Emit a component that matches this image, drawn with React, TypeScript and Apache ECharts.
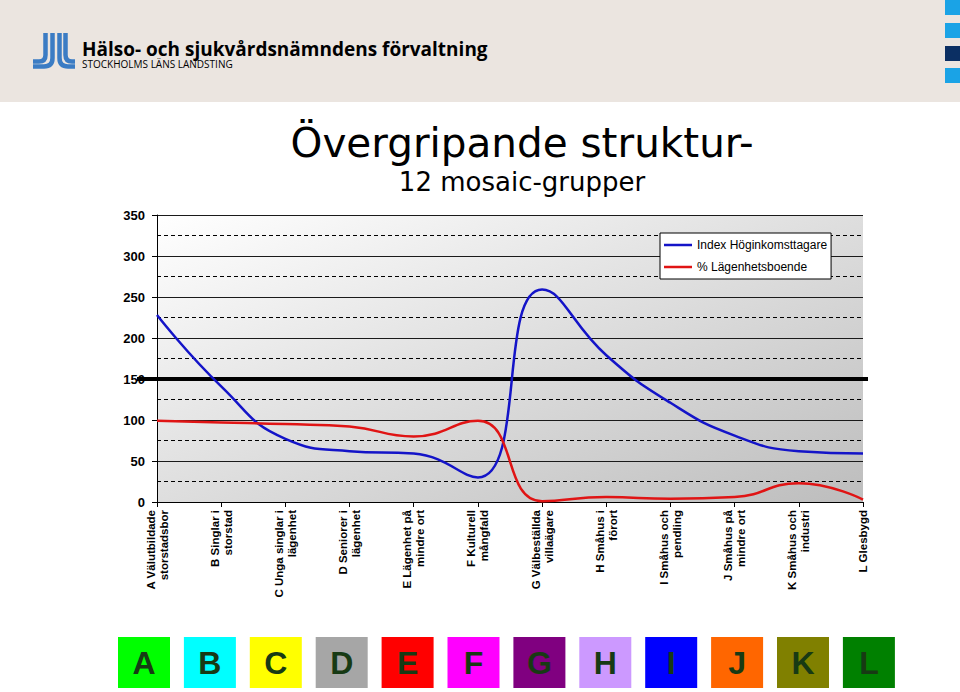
import React, { useEffect, useRef } from 'react';
import * as echarts from 'echarts';

const categories = [
  'A Välutbildade\nstorstadsbor',
  'B Singlar i\nstorstad',
  'C Unga singlar i\nlägenhet',
  'D Seniorer i\nlägenhet',
  'E Lägenhet på\nmindre ort',
  'F Kulturell\nmångfald',
  'G Välbeställda\nvillaägare',
  'H Småhus i\nförort',
  'I Småhus och\npendling',
  'J Småhus på\nmindre ort',
  'K Småhus och\nindustri',
  'L Glesbygd',
];
const seriesNames = ['Index Höginkomsttagare', '% Lägenhetsboende'];
const indexHoginkomst = [228, 141, 77, 62, 59, 30, 259, 179, 121, 81, 62, 59];
const lagenhetsboende = [99, 97, 95, 92, 80, 99, 1, 6, 4, 6, 23, 3];
const referenceLevel = 150;

const groupLetters = ['A', 'B', 'C', 'D', 'E', 'F', 'G', 'H', 'I', 'J', 'K', 'L'];
const groupColors = [
  '#00ff00', '#00ffff', '#ffff00', '#a6a6a6', '#ff0000', '#ff00ff',
  '#800080', '#cc99ff', '#0000ff', '#ff6600', '#808000', '#008000',
];
const headerSquareColors = ['#1aa3e6', '#1aa3e6', '#0b2f63', '#1aa3e6'];

const titleText = 'Övergripande struktur-';
const subtitleText = '12 mosaic-grupper';
const orgName = 'Hälso- och sjukvårdsnämndens förvaltning';
const orgSub = 'STOCKHOLMS LÄNS LANDSTING';

const LOGO_D =
  'M45.5 33 V55 Q45.5 61.5 39 61.5 H33 ' +
  'M52.5 33 V58 Q52.5 66.5 44 66.5 H33 ' +
  'M59.5 33 V58 Q59.5 66.5 68 66.5 H75 ' +
  'M65.5 33 V55 Q65.5 61.5 72 61.5 H75';

echarts.graphic.registerShape('logo', echarts.graphic.extendPath(LOGO_D, {}));

const ARIAL = '"Liberation Sans", Arial, sans-serif';

export default function App() {
  const ref = useRef<HTMLDivElement>(null);

  useEffect(() => {
    if (!ref.current) return;
    const chart = echarts.init(ref.current, undefined, { renderer: 'svg' });

    const graphics: any[] = [
      { id: 'hdr', type: 'rect', z: -10, shape: { x: 0, y: 0, width: 960, height: 102 }, style: { fill: '#ebe5e0' } },
      ...headerSquareColors.map((c, i) => ({
        id: 'sq' + i, type: 'rect', z: -5,
        shape: { x: 945, y: [0, 23, 46, 68][i], width: 15, height: 15 },
        style: { fill: c },
      })),
      { id: 'logo', type: 'logo', x: 0, y: 0, style: { stroke: '#3b7cc4', fill: 'none', lineWidth: 4.5 } },
      {
        id: 'org', type: 'text', x: 82, y: 48, scaleX: 0.95,
        style: { text: orgName, fontFamily: '"Open Sans", sans-serif', fontWeight: 'bold', fontSize: 20, fill: '#000', align: 'left', verticalAlign: 'middle', textAlign: 'left', textVerticalAlign: 'middle' },
      },
      {
        id: 'orgsub', type: 'text', x: 82, y: 64,
        style: { text: orgSub, fontFamily: '"Open Sans", sans-serif', fontSize: 10, fill: '#000', align: 'left', verticalAlign: 'middle', textAlign: 'left', textVerticalAlign: 'middle' },
      },
      {
        id: 'title', type: 'text', x: 522, y: 143,
        style: { text: titleText, fontFamily: '"DejaVu Sans", sans-serif', fontSize: 40.5, fill: '#000', align: 'center', verticalAlign: 'middle', textAlign: 'center', textVerticalAlign: 'middle' },
      },
      {
        id: 'subtitle', type: 'text', x: 522, y: 182,
        style: { text: subtitleText, fontFamily: '"DejaVu Sans", sans-serif', fontSize: 26, fill: '#000', align: 'center', verticalAlign: 'middle', textAlign: 'center', textVerticalAlign: 'middle' },
      },
      ...groupLetters.flatMap((letter, i) => {
        const x = 118 + i * 65.9;
        return [
          { id: 'box' + i, type: 'rect', shape: { x, y: 637, width: 52, height: 51 }, style: { fill: groupColors[i] } },
          {
            id: 'boxt' + i, type: 'text', x: x + 26, y: 663,
            style: { text: letter, fontFamily: ARIAL, fontWeight: 'bold', fontSize: 32, fill: '#173a14', align: 'center', verticalAlign: 'middle', textAlign: 'center', textVerticalAlign: 'middle' },
          },
        ];
      }),
    ];

    chart.setOption({
      animation: false,
      backgroundColor: '#ffffff',
      grid: {
        left: 157, top: 215, width: 706, height: 287,
        show: true, borderWidth: 0,
        backgroundColor: {
          type: 'linear', x: 0, y: 0, x2: 1, y2: 1,
          colorStops: [
            { offset: 0, color: '#ffffff' },
            { offset: 1, color: '#bdbdbd' },
          ],
        },
      },
      legend: {
        orient: 'vertical',
        left: 660, top: 233,
        width: 178,
        backgroundColor: '#ffffff',
        borderColor: '#000000',
        borderWidth: 1,
        borderRadius: 0,
        padding: [5, 4, 5, 4],
        itemGap: 8,
        itemWidth: 28,
        itemHeight: 2.5,
        icon: 'rect',
        textStyle: { fontFamily: ARIAL, fontSize: 12, lineHeight: 14, color: '#000' },
        data: seriesNames,
      },
      xAxis: {
        type: 'category',
        data: categories,
        boundaryGap: false,
        axisLine: { lineStyle: { color: '#000', width: 1 } },
        axisTick: { show: true, length: 5, lineStyle: { color: '#000' } },
        axisLabel: {
          interval: 0, rotate: 90, margin: 8,
          fontFamily: ARIAL, fontWeight: 'bold', fontSize: 11.5, lineHeight: 13, color: '#000',
        },
        splitLine: { show: false },
      },
      yAxis: {
        type: 'value',
        min: 0, max: 350, interval: 50,
        axisLine: { show: true, lineStyle: { color: '#000', width: 1 } },
        axisTick: { show: true, length: 5, lineStyle: { color: '#000' } },
        axisLabel: { margin: 12, fontFamily: ARIAL, fontWeight: 'bold', fontSize: 13, color: '#000' },
        splitLine: { show: true, lineStyle: { color: '#1a1a1a', width: 1 } },
        minorTick: { show: false, splitNumber: 2 },
        minorSplitLine: { show: true, lineStyle: { color: '#000', width: 1, type: [4, 3] } },
      },
      series: [
        {
          name: seriesNames[0], type: 'line', data: indexHoginkomst,
          smooth: 0.5, symbol: 'none', z: 3,
          lineStyle: { color: '#1414c8', width: 2.5 }, itemStyle: { color: '#1414c8' },
        },
        {
          name: seriesNames[1], type: 'line', data: lagenhetsboende,
          smooth: 0.5, symbol: 'none', z: 3,
          lineStyle: { color: '#e01414', width: 2.5 }, itemStyle: { color: '#e01414' },
        },
      ],
      graphic: graphics,
    });

    const y150 = chart.convertToPixel({ yAxisIndex: 0 }, referenceLevel) as number;
    chart.setOption({
      graphic: [
        ...graphics,
        {
          id: 'ref150', type: 'line', z: 1,
          shape: { x1: 137, y1: y150, x2: 868, y2: y150 },
          style: { stroke: '#000', lineWidth: 4 },
        },
      ],
    });

    return () => chart.dispose();
  }, []);

  return (
    <div
      ref={ref}
      style={{ position: 'fixed', left: 0, top: 0, width: 960, height: 692, background: '#fff' }}
    />
  );
}
